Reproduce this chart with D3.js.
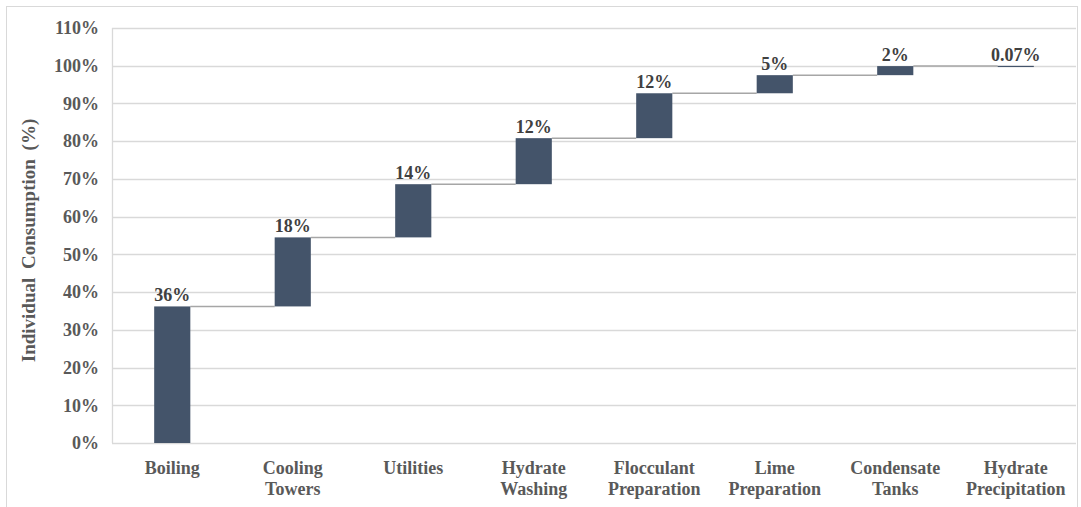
<!DOCTYPE html>
<html lang="en">

<head>
    <meta charset="UTF-8" />
    <title>Individual Consumption</title>
    <script src="https://d3js.org/d3.v7.min.js"></script>
    <style>
        body { margin: 0; background: #fff; }
        text { font-family: "Liberation Serif", "Times New Roman", serif; font-weight: bold; }
    </style>
</head>

<body>
    <svg id="svg" width="1081" height="507"></svg>
</body>
<script>

// 数据
const categories = ['Boiling', 'Cooling Towers', 'Utilities', 'Hydrate Washing', 'Flocculant Preparation', 'Lime Preparation', 'Condensate Tanks', 'Hydrate Precipitation']
const values = [36.2, 18.3, 14.1, 12.2, 11.9, 4.8, 2.4, 0.07]
const valueLabels = ['36%', '18%', '14%', '12%', '12%', '5%', '2%', '0.07%']
const yTicks = [0, 10, 20, 30, 40, 50, 60, 70, 80, 90, 100, 110]

// 累计起止
let acc = 0
const steps = values.map((v, i) => {
    const s = { cat: categories[i], start: acc, end: acc + v, label: valueLabels[i] }
    acc += v
    return s
})

const plotLeft = 112, plotRight = 1076, plotTop = 28, plotBottom = 443

const y = d3.scaleLinear().domain([0, 110]).range([plotBottom, plotTop])
const x = d3.scaleBand().domain(categories).range([plotLeft, plotRight]).paddingInner(0.7).paddingOuter(0.35)

const svg = d3.select('#svg')

// 外框
svg.append('rect')
    .attr('x', 6.5).attr('y', 6.5).attr('width', 1071).attr('height', 510)
    .attr('fill', 'none').attr('stroke', '#d9d9d9')

// 网格线
svg.append('g').selectAll('line')
    .data(yTicks)
    .enter()
    .append('line')
    .attr('x1', plotLeft).attr('x2', plotRight)
    .attr('y1', d => Math.round(y(d)) + 0.5).attr('y2', d => Math.round(y(d)) + 0.5)
    .attr('stroke', '#d9d9d9').attr('stroke-width', 1.3)

// 左轴线
svg.append('line')
    .attr('x1', plotLeft + 0.5).attr('x2', plotLeft + 0.5)
    .attr('y1', plotTop).attr('y2', plotBottom)
    .attr('stroke', '#d9d9d9').attr('stroke-width', 1.3)

// y轴刻度
const yAxis = d3.axisLeft(y).tickValues(yTicks).tickFormat(d => d + '%').tickSize(0).tickPadding(13)
const gy = svg.append('g').attr('transform', `translate(${plotLeft},0)`).call(yAxis)
gy.select('.domain').remove()
gy.selectAll('text')
    .attr('fill', '#595959')
    .style('font-size', '18px')
    .style('font-family', '"Liberation Serif", serif')
    .style('font-weight', 'bold')

// 连接线
svg.append('g').selectAll('line')
    .data(steps.slice(0, -1))
    .enter()
    .append('line')
    .attr('x1', d => x(d.cat) + x.bandwidth())
    .attr('x2', (d, i) => x(categories[i + 1]))
    .attr('y1', d => y(d.end)).attr('y2', d => y(d.end))
    .attr('stroke', '#a6a6a6').attr('stroke-width', 1.5)

// 柱子
svg.append('g').selectAll('rect')
    .data(steps)
    .enter()
    .append('rect')
    .attr('x', d => x(d.cat))
    .attr('y', d => y(d.end))
    .attr('width', x.bandwidth())
    .attr('height', d => Math.max(1.2, y(d.start) - y(d.end)))
    .attr('fill', '#44546a')

// 数值标签
svg.append('g').selectAll('text')
    .data(steps)
    .enter()
    .append('text')
    .attr('x', d => x(d.cat) + x.bandwidth() / 2)
    .attr('y', d => y(d.end) - 5)
    .attr('text-anchor', 'middle')
    .attr('fill', '#404040')
    .style('font-size', '18px')
    .text(d => d.label)

// x轴分类标签（两行）
const xl = svg.append('g').selectAll('text')
    .data(categories)
    .enter()
    .append('text')
    .attr('text-anchor', 'middle')
    .attr('fill', '#595959')
    .style('font-size', '18px')
xl.each(function (d) {
    const words = d.split(' ')
    const t = d3.select(this)
    words.forEach((w, i) => {
        t.append('tspan')
            .attr('x', x(d) + x.bandwidth() / 2)
            .attr('y', 474 + i * 21)
            .text(w)
    })
})

// y轴标题
svg.append('text')
    .attr('transform', `translate(35,${(plotTop + plotBottom) / 2 + 5}) rotate(-90)`)
    .attr('text-anchor', 'middle')
    .attr('fill', '#595959')
    .style('font-size', '19px')
    .style('word-spacing', '4px')
    .text('Individual Consumption (%)')

</script>

</html>
